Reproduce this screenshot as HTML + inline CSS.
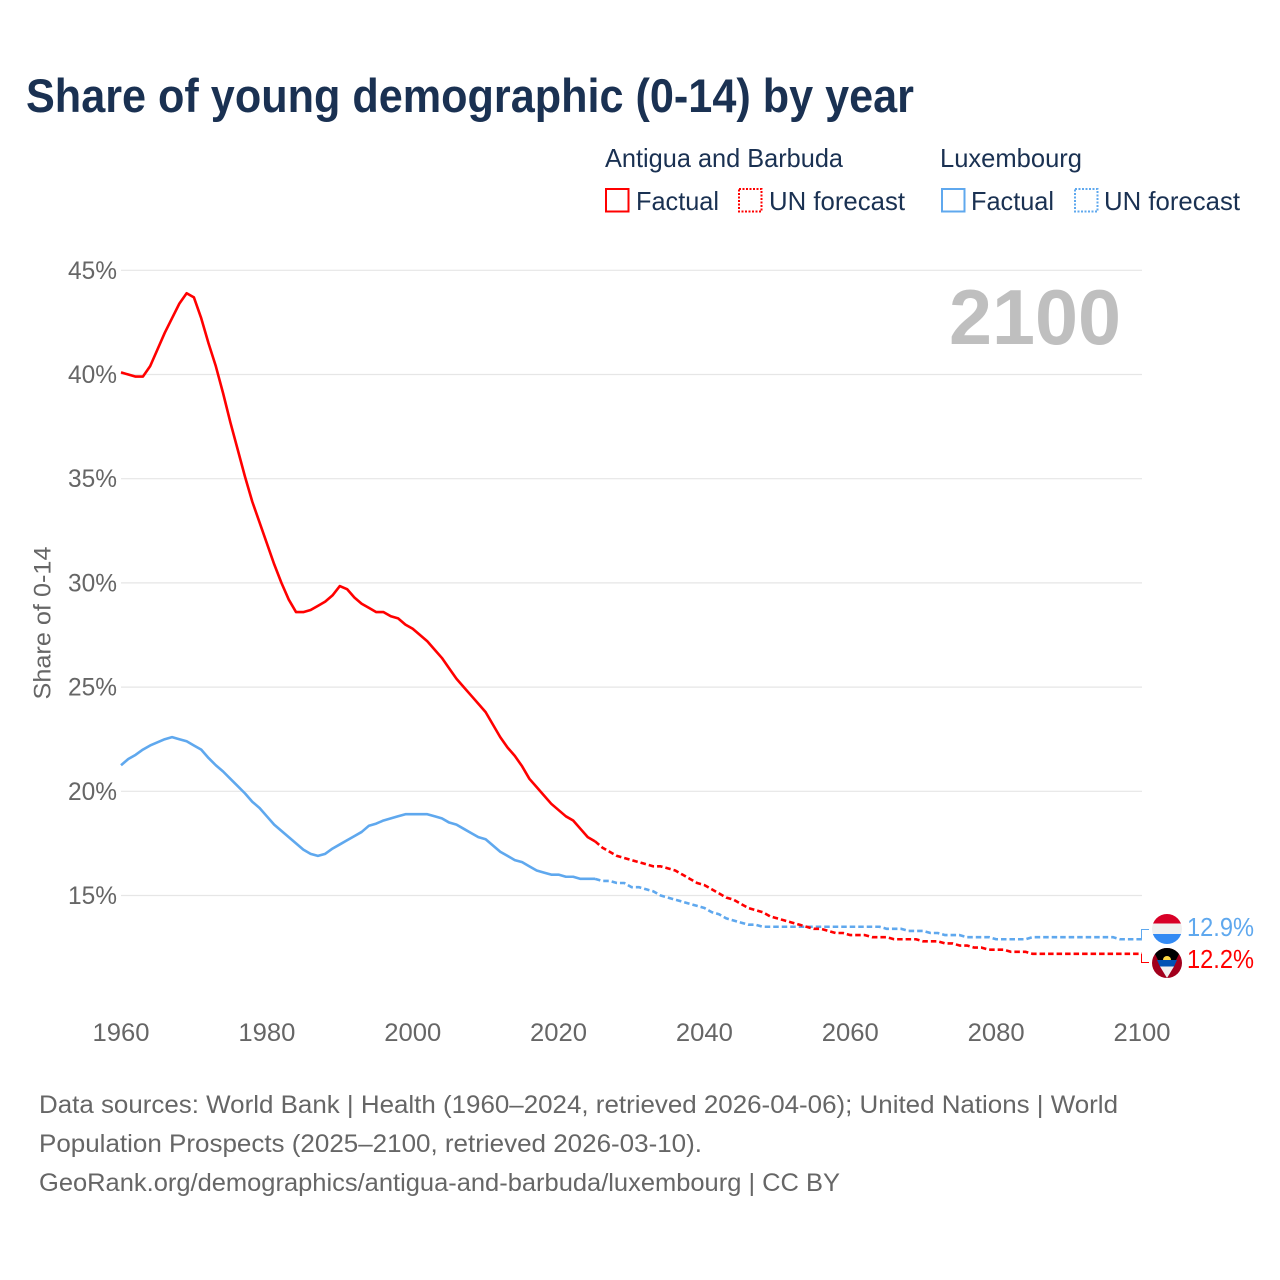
<!DOCTYPE html>
<html lang="en">
<head>
<meta charset="utf-8">
<title>Share of young demographic (0-14) by year</title>
<style>
html,body{margin:0;padding:0;background:#fff;}
svg{display:block;font-family:"Liberation Sans",sans-serif;}
</style>
</head>
<body>
<svg id="chart" xmlns="http://www.w3.org/2000/svg" width="1280" height="1280" viewBox="0 0 1280 1280">
  <rect x="0" y="0" width="1280" height="1280" fill="#ffffff"/>
  <text x="26" y="112" font-size="47" font-weight="700" fill="#1a3152" textLength="888" lengthAdjust="spacingAndGlyphs">Share of young demographic (0-14) by year</text>

  <g font-size="26" fill="#1a3152">
    <text x="605" y="167" textLength="238" lengthAdjust="spacingAndGlyphs">Antigua and Barbuda</text>
    <text x="940" y="167" textLength="142" lengthAdjust="spacingAndGlyphs">Luxembourg</text>
    <rect x="606" y="189" width="22.5" height="22.5" fill="none" stroke="#ff0000" stroke-width="2"/>
    <text x="636" y="210" textLength="83" lengthAdjust="spacingAndGlyphs">Factual</text>
    <rect x="739" y="189" width="22.5" height="22.5" fill="none" stroke="#ff0000" stroke-width="2" stroke-dasharray="2 1.5"/>
    <text x="769" y="210" textLength="136" lengthAdjust="spacingAndGlyphs">UN forecast</text>
    <rect x="942" y="189" width="22.5" height="22.5" fill="none" stroke="#5fa8ee" stroke-width="2"/>
    <text x="971" y="210" textLength="83" lengthAdjust="spacingAndGlyphs">Factual</text>
    <rect x="1075" y="189" width="22.5" height="22.5" fill="none" stroke="#5fa8ee" stroke-width="2" stroke-dasharray="2 1.5"/>
    <text x="1104" y="210" textLength="136" lengthAdjust="spacingAndGlyphs">UN forecast</text>
  </g>

  <g id="grid"></g>
  <g id="yticks"></g>
  <g id="xticks"></g>
  <text transform="translate(50.5,623) rotate(-90)" text-anchor="middle" font-size="24.5" fill="#666666" textLength="153" lengthAdjust="spacingAndGlyphs">Share of 0-14</text>
  <text x="949" y="344" font-size="78" font-weight="700" fill="#bfbfbf" textLength="172" lengthAdjust="spacingAndGlyphs">2100</text>

  <g id="series"></g>

  <g>
    <clipPath id="lux-clip"><circle cx="1167" cy="929" r="15"/></clipPath>
    <g clip-path="url(#lux-clip)">
      <rect x="1152" y="914" width="30" height="9.5" fill="#d80027"/>
      <rect x="1152" y="923.5" width="30" height="10.5" fill="#f0f0f0"/>
      <rect x="1152" y="934" width="30" height="10" fill="#338af3"/>
    </g>
    <text x="1187" y="936" font-size="26" fill="#5fa8ee" textLength="67" lengthAdjust="spacingAndGlyphs">12.9%</text>
  </g>
  <g>
    <clipPath id="atg-clip"><circle cx="1167" cy="963" r="15"/></clipPath>
    <g clip-path="url(#atg-clip)">
      <rect x="1152" y="948" width="30" height="30" fill="#a2001d"/>
      <polygon points="1152,948 1182,948 1167,978" fill="#000000"/>
      <path d="M1163,960 a4,4 0 0 1 8,0 z" fill="#ffda44"/>
      <polygon points="1157,960 1177,960 1174,966.5 1160,966.5" fill="#0052b4"/>
      <polygon points="1160,966.5 1174,966.5 1167,978" fill="#f0f0f0"/>
    </g>
    <text x="1187" y="968" font-size="26" fill="#ff0000" textLength="67" lengthAdjust="spacingAndGlyphs">12.2%</text>
  </g>

  <g font-size="25" fill="#666666">
    <text x="39" y="1113" textLength="1079" lengthAdjust="spacingAndGlyphs">Data sources: World Bank | Health (1960–2024, retrieved 2026-04-06); United Nations | World</text>
    <text x="39" y="1152" textLength="663" lengthAdjust="spacingAndGlyphs">Population Prospects (2025–2100, retrieved 2026-03-10).</text>
    <text x="39" y="1191" textLength="801" lengthAdjust="spacingAndGlyphs">GeoRank.org/demographics/antigua-and-barbuda/luxembourg | CC BY</text>
  </g>
</svg>

<script>
const yTickValues = [45, 40, 35, 30, 25, 20, 15];
const xTickYears = [1960, 1980, 2000, 2020, 2040, 2060, 2080, 2100];
const factualStartYear = 1960;
const forecastStartYear = 2025;

const antiguaFactual = [
  40.1,40.0,39.9,39.9,40.4,41.2,42.0,42.7,43.4,43.9,
  43.7,42.7,41.5,40.4,39.1,37.7,36.4,35.1,33.9,32.9,
  31.9,30.9,30.0,29.2,28.6,28.6,28.7,28.9,29.1,29.4,
  29.85,29.7,29.3,29.0,28.8,28.6,28.6,28.4,28.3,28.0,
  27.8,27.5,27.2,26.8,26.4,25.9,25.4,25.0,24.6,24.2,
  23.8,23.2,22.6,22.1,21.7,21.2,20.6,20.2,19.8,19.4,
  19.1,18.8,18.6,18.2,17.8
];
const antiguaForecast = [
  17.6,17.3,17.1,16.9,16.8,16.7,16.6,16.5,16.4,16.4,
  16.3,16.2,16.0,15.8,15.6,15.5,15.3,15.1,14.9,14.8,
  14.6,14.4,14.3,14.2,14.0,13.9,13.8,13.7,13.6,13.5,
  13.4,13.4,13.3,13.2,13.2,13.1,13.1,13.1,13.0,13.0,
  13.0,12.9,12.9,12.9,12.9,12.8,12.8,12.8,12.7,12.7,
  12.6,12.6,12.5,12.5,12.4,12.4,12.4,12.3,12.3,12.3,
  12.2,12.2,12.2,12.2,12.2,12.2,12.2,12.2,12.2,12.2,12.2,12.2,12.2,12.2,12.2,12.2
];
const luxembourgFactual = [
  21.25,21.55,21.75,22.0,22.2,22.35,22.5,22.6,22.5,22.4,
  22.2,22.0,21.6,21.25,20.95,20.6,20.25,19.9,19.5,19.2,
  18.8,18.4,18.1,17.8,17.5,17.2,17.0,16.9,17.0,17.25,
  17.45,17.65,17.85,18.05,18.35,18.45,18.6,18.7,18.8,18.9,
  18.9,18.9,18.9,18.8,18.7,18.5,18.4,18.2,18.0,17.8,
  17.7,17.4,17.1,16.9,16.7,16.6,16.4,16.2,16.1,16.0,
  16.0,15.9,15.9,15.8,15.8
];
const luxembourgForecast = [
  15.8,15.7,15.7,15.6,15.6,15.4,15.4,15.3,15.2,15.0,
  14.9,14.8,14.7,14.6,14.5,14.4,14.2,14.1,13.9,13.8,
  13.7,13.6,13.6,13.5,13.5,13.5,13.5,13.5,13.5,13.5,
  13.5,13.5,13.5,13.5,13.5,13.5,13.5,13.5,13.5,13.5,
  13.4,13.4,13.4,13.3,13.3,13.3,13.2,13.2,13.1,13.1,
  13.1,13.0,13.0,13.0,13.0,12.9,12.9,12.9,12.9,12.9,
  13.0,13.0,13.0,13.0,13.0,13.0,13.0,13.0,13.0,13.0,13.0,13.0,12.9,12.9,12.9,12.9
];

const SVG_NS = 'http://www.w3.org/2000/svg';
const plotLeft = 121, plotRight = 1142;
const yearMin = 1960, yearMax = 2100;
const y45 = 270.3, pxPerPercent = 20.84;
const xScale = (year) => plotLeft + (year - yearMin) * (plotRight - plotLeft) / (yearMax - yearMin);
const yScale = (v) => y45 + (45 - v) * pxPerPercent;

const gridGroup = document.getElementById('grid');
const yTickGroup = document.getElementById('yticks');
const xTickGroup = document.getElementById('xticks');
const seriesGroup = document.getElementById('series');

yTickValues.forEach((v) => {
  const line = document.createElementNS(SVG_NS, 'line');
  
  
  line.setAttribute('x1', plotLeft);
  line.setAttribute('x2', plotRight);
  line.setAttribute('y1', yScale(v));
  line.setAttribute('y2', yScale(v));
  line.setAttribute('stroke', '#e6e6e6');
  line.setAttribute('stroke-width', '1.2');
  gridGroup.appendChild(line);

  const label = document.createElementNS(SVG_NS, 'text');
  
  
  label.setAttribute('x', 68);
  label.setAttribute('y', yScale(v) + 8.5);
  label.setAttribute('font-size', '25');
  label.setAttribute('fill', '#666666');
  label.setAttribute('textLength', '49');
  label.setAttribute('lengthAdjust', 'spacingAndGlyphs');
  label.textContent = v + '%';
  yTickGroup.appendChild(label);
});

xTickYears.forEach((year) => {
  const label = document.createElementNS(SVG_NS, 'text');
  
  
  label.setAttribute('x', xScale(year) - 28.5);
  label.setAttribute('y', 1041);
  label.setAttribute('font-size', '25');
  label.setAttribute('fill', '#666666');
  label.setAttribute('textLength', '57');
  label.setAttribute('lengthAdjust', 'spacingAndGlyphs');
  label.textContent = String(year);
  xTickGroup.appendChild(label);
});

function pathFrom(values, startYear) {
  return values.map((v, i) => (i ? 'L' : 'M') + xScale(startYear + i).toFixed(2) + ',' + yScale(v).toFixed(2)).join(' ');
}

function addPath(name, d, color, dash) {
  const path = document.createElementNS(SVG_NS, 'path');
  
  
  path.setAttribute('d', d);
  path.setAttribute('fill', 'none');
  path.setAttribute('stroke', color);
  path.setAttribute('stroke-width', '2.6');
  path.setAttribute('stroke-linejoin', 'round');
  if (dash) path.setAttribute('stroke-dasharray', dash);
  seriesGroup.appendChild(path);
}

function addPathThin(name, d, color) {
  const path = document.createElementNS(SVG_NS, 'path');
  
  
  path.setAttribute('d', d);
  path.setAttribute('fill', 'none');
  path.setAttribute('stroke', color);
  path.setAttribute('stroke-width', '1');
  seriesGroup.appendChild(path);
}

addPath('luxembourg-factual-line', pathFrom(luxembourgFactual.concat(luxembourgForecast[0]), factualStartYear), '#5fa8ee', null);
addPath('luxembourg-forecast-line', pathFrom(luxembourgForecast, forecastStartYear), '#5fa8ee', '5.5 3');
addPath('antigua-factual-line', pathFrom(antiguaFactual.concat(antiguaForecast[0]), factualStartYear), '#ff0000', null);
addPath('antigua-forecast-line', pathFrom(antiguaForecast, forecastStartYear), '#ff0000', '5.5 3');

const luxEnd = luxembourgForecast[luxembourgForecast.length - 1];
const atgEnd = antiguaForecast[antiguaForecast.length - 1];
addPathThin('luxembourg-end-connector', 'M1141.5,' + yScale(luxEnd).toFixed(1) + ' V929.5 H1149', '#5fa8ee');
addPathThin('antigua-end-connector', 'M1141.5,' + yScale(atgEnd).toFixed(1) + ' V962.5 H1149', '#ff0000');
</script>
</body>
</html>
